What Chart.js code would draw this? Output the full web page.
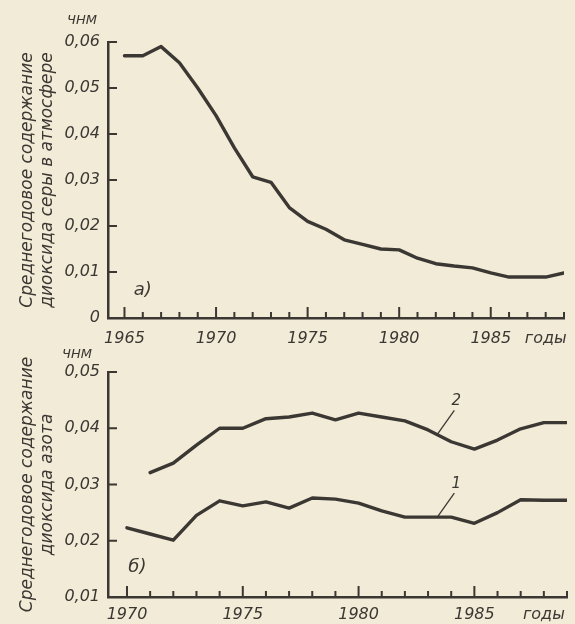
<!DOCTYPE html>
<html>
<head>
<meta charset="utf-8">
<script src="https://cdn.jsdelivr.net/npm/chart.js@4.4.1/dist/chart.umd.min.js"></script>
<style>
  body { margin: 0; background: #f2ebd7; }
  .panel { position: absolute; left: 0; }
</style>
</head>
<body>
<div class="panel" style="top:0"><canvas id="so2Chart" width="575" height="345"></canvas></div>
<div class="panel" style="top:345px"><canvas id="no2Chart" width="575" height="279"></canvas></div>
<script>
// panel a) - sulphur dioxide
const so2Years = [1965, 1966, 1967, 1968, 1969, 1970, 1971, 1972, 1973, 1974, 1975, 1976,
  1977, 1978, 1979, 1980, 1981, 1982, 1983, 1984, 1985, 1986, 1987, 1988, 1989];
const so2Values = [0.057, 0.057, 0.059, 0.0555, 0.050, 0.044, 0.037, 0.0307, 0.0295, 0.024,
  0.021, 0.0193, 0.017, 0.016, 0.015, 0.0148, 0.013, 0.0118, 0.0113, 0.0109, 0.0098,
  0.0089, 0.0089, 0.0089, 0.0098];

// panel б) - nitrogen dioxide, curves 1 and 2
const no2Years = [1970, 1971, 1972, 1973, 1974, 1975, 1976, 1977, 1978, 1979, 1980, 1981,
  1982, 1983, 1984, 1985, 1986, 1987, 1988, 1989];
const no2Curve1 = [0.0223, 0.0212, 0.0201, 0.0245, 0.0271, 0.0262, 0.0269, 0.0258, 0.0276,
  0.0274, 0.0267, 0.0253, 0.0242, 0.0242, 0.0242, 0.0231, 0.025, 0.0273, 0.0272, 0.0272];
const no2Curve2 = [null, 0.0321, 0.0338, 0.037, 0.040, 0.040, 0.0417, 0.042, 0.0427, 0.0415,
  0.0427, 0.042, 0.0413, 0.0397, 0.0376, 0.0363, 0.0379, 0.0399, 0.041, 0.041];

const so2Title = ['Среднегодовое содержание', 'диоксида серы в атмосфере'];
const no2Title = ['Среднегодовое содержание', 'диоксида азота'];
const yearLabels = [1965, 1970, 1975, 1980, 1985];
const unitLabel = 'ЧНМ';
const yearsWord = 'годы';

const INK = '#3b3733';
const FONT = 'DejaVu Sans';

// pair years with values, dropping missing years
function toPoints(years, values) {
  return years.map((yr, i) => ({ x: yr, y: values[i] })).filter(p => p.y !== null);
}

function lineSet(points) {
  return {
    data: points,
    borderColor: INK,
    borderWidth: 3.4,
    pointRadius: 0,
    tension: 0,
    borderJoinStyle: 'round',
    borderCapStyle: 'round'
  };
}

// draws the inward ticks, unit label, panel letter and curve numbers
const inkPlugin = {
  id: 'ink',
  afterDraw(chart, args, opts) {
    const { ctx, chartArea } = chart;
    const x = chart.scales.x, y = chart.scales.y;
    ctx.save();
    ctx.strokeStyle = INK;
    ctx.fillStyle = INK;
    ctx.lineWidth = 2;
    ctx.beginPath();
    for (let yr = Math.ceil(x.min); yr <= x.max; yr++) {
      const px = x.getPixelForValue(yr);
      const len = yr % 5 === 0 ? 11 : 6;
      ctx.moveTo(px, chartArea.bottom);
      ctx.lineTo(px, chartArea.bottom - len);
    }
    y.ticks.forEach(t => {
      if (Math.abs(t.value - y.min) < 1e-6) return;
      const py = y.getPixelForValue(t.value);
      ctx.moveTo(chartArea.left, py);
      ctx.lineTo(chartArea.left + 9, py);
    });
    ctx.stroke();

    ctx.font = 'italic 13px "' + FONT + '"';
    ctx.textAlign = 'right';
    ctx.textBaseline = 'middle';
    ctx.fillText(unitLabel, opts.unitRight, opts.unitY);

    ctx.font = 'italic 18px "' + FONT + '"';
    ctx.textAlign = 'center';
    ctx.fillText(opts.letter, x.getPixelForValue(opts.letterAt[0]), y.getPixelForValue(opts.letterAt[1]));

    (opts.marks || []).forEach(m => {
      const sx = x.getPixelForValue(m.year), sy = y.getPixelForValue(m.value);
      ctx.lineWidth = 1.3;
      ctx.beginPath();
      ctx.moveTo(sx, sy);
      ctx.lineTo(sx + 17, sy - 24);
      ctx.stroke();
      ctx.font = 'italic 15px "' + FONT + '"';
      ctx.fillText(m.text, sx + 19, sy - 33);
    });
    ctx.restore();
  }
};

function makeChart(id, cfg) {
  return new Chart(document.getElementById(id), {
    type: 'line',
    data: { datasets: cfg.datasets },
    plugins: [inkPlugin],
    options: {
      responsive: false,
      animation: false,
      layout: { padding: { top: cfg.padTop, right: 8, left: 0, bottom: 0 } },
      plugins: {
        legend: { display: false },
        tooltip: { enabled: false },
        ink: cfg.ink
      },
      scales: {
        x: {
          type: 'linear',
          min: cfg.xMin,
          max: 1989,
          afterFit: s => { s.height = 27; },
          grid: { display: false, drawTicks: false },
          border: { display: true, color: INK, width: 2.5 },
          ticks: {
            stepSize: 1,
            autoSkip: false,
            maxRotation: 0,
            includeBounds: false,
            padding: cfg.xPad,
            color: INK,
            font: { family: FONT, size: 16, style: 'italic' },
            callback: v => {
              if (v === 1988) return yearsWord;
              return (yearLabels.includes(v) && v > cfg.xMin) ? String(v) : '';
            }
          }
        },
        y: {
          min: cfg.yMin,
          max: cfg.yMax,
          afterFit: s => { s.width = 108; },
          grid: { display: false, drawTicks: false },
          border: { display: true, color: INK, width: 2.5 },
          title: {
            display: true,
            text: cfg.title,
            color: INK,
            font: { family: FONT, size: 17, style: 'italic' },
            padding: { top: 17, bottom: 0 }
          },
          ticks: {
            stepSize: 0.01,
            padding: 8,
            color: INK,
            font: { family: FONT, size: 16, style: 'italic' },
            callback: v => v < 1e-6 ? '0' : v.toFixed(2).replace('.', ',')
          }
        }
      }
    }
  });
}

makeChart('so2Chart', {
  datasets: [lineSet(toPoints(so2Years, so2Values))],
  padTop: 42, xMin: 1964.1, xPad: 11, yMin: 0, yMax: 0.06,
  title: so2Title,
  ink: { unitRight: 97, unitY: 21, letter: 'а)', letterAt: [1966, 0.006] }
});

makeChart('no2Chart', {
  datasets: [lineSet(toPoints(no2Years, no2Curve1)), lineSet(toPoints(no2Years, no2Curve2))],
  padTop: 27, xMin: 1969.18, xPad: 8, yMin: 0.01, yMax: 0.05,
  title: no2Title,
  ink: {
    unitRight: 92, unitY: 10, letter: 'б)', letterAt: [1970.45, 0.0152],
    marks: [
      { text: '2', year: 1983.4, value: 0.0389 },
      { text: '1', year: 1983.4, value: 0.0242 }
    ]
  }
});
</script>
</body>
</html>
